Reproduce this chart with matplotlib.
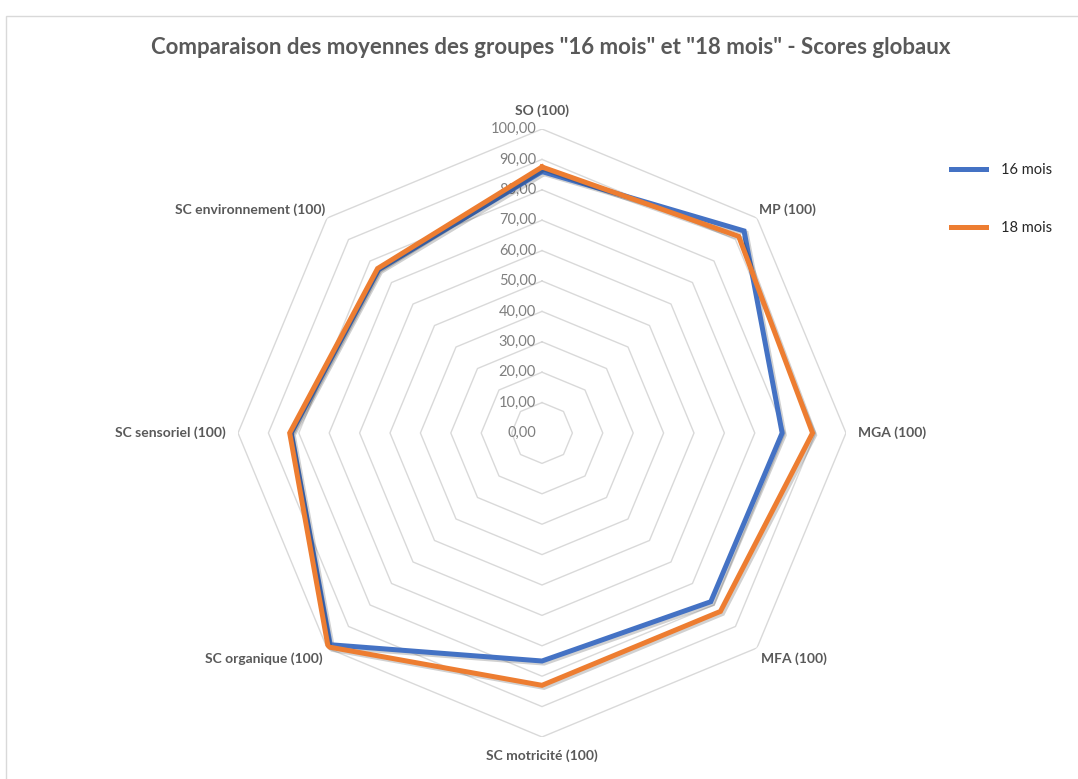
import numpy as np
import matplotlib
matplotlib.use("Agg")
import matplotlib.pyplot as plt
import matplotlib.patheffects as pe
from matplotlib.patches import Rectangle
from matplotlib.transforms import offset_copy

# Chart data
categories = ["SO (100)", "MP (100)", "MGA (100)", "MFA (100)",
              "SC motricité (100)", "SC organique (100)",
              "SC sensoriel (100)", "SC environnement (100)"]
scores_16 = [86.0, 94.0, 79.0, 78.5, 75.0, 98.5, 82.5, 76.0]
scores_18 = [87.5, 91.5, 89.0, 83.0, 83.0, 99.5, 83.0, 76.5]
ring_values = [0, 10, 20, 30, 40, 50, 60, 70, 80, 90, 100]
ring_labels = ["0,00", "10,00", "20,00", "30,00", "40,00", "50,00",
               "60,00", "70,00", "80,00", "90,00", "100,00"]
series_names = ["16 mois", "18 mois"]

BLUE = "#4472C4"
ORANGE = "#ED7D31"
TXT = "#595959"
GRID = "#D9D9D9"

plt.rcParams['font.family'] = ['Lato', 'DejaVu Sans']

W, H = 1078, 779
fig = plt.figure(figsize=(W / 100, H / 100), dpi=100)

# light chart border (like the Excel chart area)
fig.patches.append(Rectangle((5.5 / W, -0.1), 1.2, 1.1 - 16.5 / H,
                             transform=fig.transFigure, fill=False,
                             edgecolor=GRID, linewidth=1.0))

# polar axes positioned so that center ~ (542, 433) px and radius ~304 px
cx, cy, rad = 542, 433, 304
ax = fig.add_axes([(cx - rad) / W, (H - cy - rad) / H, 2 * rad / W, 2 * rad / H],
                  projection='polar')
ax.set_theta_zero_location('N')
ax.set_theta_direction(-1)
ax.set_ylim(0, 100)
ax.grid(False)
ax.spines['polar'].set_visible(False)
ax.set_xticks([])
ax.set_yticks([])
ax.patch.set_visible(False)

n = len(categories)
angles = np.linspace(0, 2 * np.pi, n, endpoint=False)
closed = np.concatenate([angles, angles[:1]])

# polygon gridlines
for v in ring_values[1:]:
    ax.plot(closed, [v] * (n + 1), color=GRID, linewidth=1.0, zorder=1)

# ring labels along the vertical axis
lab_tr = offset_copy(ax.transData, fig=fig, x=-6, y=0, units='dots')
for v, s in zip(ring_values, ring_labels):
    ax.text(0, v, s, transform=lab_tr, ha='right', va='center',
            fontsize=10.5, color="#7F7F7F", zorder=2)

# series
shadow = [pe.SimpleLineShadow(offset=(1.5, -1.5), shadow_color='#000000', alpha=0.18),
          pe.Normal()]
lines = []
for vals, col, name in zip([scores_16, scores_18], [BLUE, ORANGE], series_names):
    v = list(vals) + [vals[0]]
    ln, = ax.plot(closed, v, color=col, linewidth=3.6, solid_joinstyle='miter',
                  label=name, zorder=3, path_effects=shadow)
    lines.append(ln)

# category labels
align = [('center', 'bottom', 104), ('left', 'bottom', 101), ('left', 'center', 104),
         ('left', 'top', 102), ('center', 'top', 104), ('right', 'top', 102),
         ('right', 'center', 104), ('right', 'bottom', 101)]
for a, lab, (ha, va, r) in zip(angles, categories, align):
    ax.text(a, r, lab, ha=ha, va=va, fontsize=10, color=TXT, fontweight='bold')

fig.text(551 / W, 1 - 47 / H, 'Comparaison des moyennes des groupes "16 mois" et "18 mois" - Scores globaux',
         ha='center', va='center', fontsize=16, color=TXT, fontweight='bold')

leg_handles = [plt.Line2D([], [], color=c, linewidth=3.6) for c in (BLUE, ORANGE)]
fig.legend(leg_handles, series_names, loc='upper left',
           bbox_to_anchor=(938 / W, 1 - 150 / H), frameon=False,
           fontsize=10.5, labelcolor='#262626', handlelength=2.4,
           handletextpad=1.0, labelspacing=3.0)

fig.savefig("out.png", dpi=100, facecolor='white')
